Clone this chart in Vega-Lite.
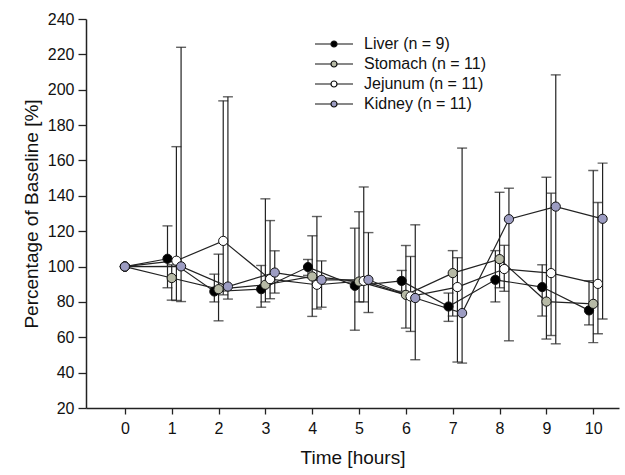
{
  "$schema": "https://vega.github.io/schema/vega-lite/v6.json",
  "width": 533,
  "height": 389,
  "autosize": {"type": "none"},
  "padding": {"left": 86, "top": 19, "right": 6, "bottom": 67},
  "background": "white",
  "config": {
    "view": {"stroke": null},
    "font": "Liberation Sans",
    "axis": {
      "domainColor": "#222",
      "domainWidth": 1.5,
      "tickColor": "#222",
      "tickWidth": 1.3,
      "labelColor": "#111",
      "titleColor": "#111",
      "labelFont": "Liberation Sans",
      "titleFont": "Liberation Sans",
      "labelFontSize": 16,
      "titleFontSize": 19,
      "titleFontWeight": "normal",
      "labelOverlap": false,
      "grid": false
    }
  },
  "data": {
    "values": [
      {"series": "Liver (n = 9)", "hour": 0, "time": 0, "v": 100},
      {"series": "Liver (n = 9)", "hour": 1, "time": 0.91, "v": 104.4, "hi": 123, "lo": 88},
      {"series": "Liver (n = 9)", "hour": 2, "time": 1.91, "v": 85.9, "hi": 95.7, "lo": 80},
      {"series": "Liver (n = 9)", "hour": 3, "time": 2.91, "v": 87.2, "hi": 100.6, "lo": 77},
      {"series": "Liver (n = 9)", "hour": 4, "time": 3.91, "v": 99.7, "hi": 104, "lo": 95},
      {"series": "Liver (n = 9)", "hour": 5, "time": 4.91, "v": 89.1, "hi": 121.7, "lo": 64},
      {"series": "Liver (n = 9)", "hour": 6, "time": 5.91, "v": 91.9, "hi": 97.8, "lo": 86},
      {"series": "Liver (n = 9)", "hour": 7, "time": 6.91, "v": 77.4, "hi": 85, "lo": 69},
      {"series": "Liver (n = 9)", "hour": 8, "time": 7.91, "v": 92.5, "hi": 109, "lo": 80},
      {"series": "Liver (n = 9)", "hour": 9, "time": 8.91, "v": 88.4, "hi": 101, "lo": 72},
      {"series": "Liver (n = 9)", "hour": 10, "time": 9.91, "v": 75.2, "hi": 92, "lo": 67},

      {"series": "Stomach (n = 11)", "hour": 0, "time": 0, "v": 100},
      {"series": "Stomach (n = 11)", "hour": 1, "time": 1, "v": 93.5, "hi": 101, "lo": 81},
      {"series": "Stomach (n = 11)", "hour": 2, "time": 2, "v": 87.2, "hi": 107, "lo": 69.3},
      {"series": "Stomach (n = 11)", "hour": 3, "time": 3, "v": 89.7, "hi": 138.3, "lo": 80},
      {"series": "Stomach (n = 11)", "hour": 4, "time": 4, "v": 94.4, "hi": 117.4, "lo": 71.8},
      {"series": "Stomach (n = 11)", "hour": 5, "time": 5, "v": 91.5, "hi": 131, "lo": 80},
      {"series": "Stomach (n = 11)", "hour": 6, "time": 6, "v": 84, "hi": 111.9, "lo": 65.2},
      {"series": "Stomach (n = 11)", "hour": 7, "time": 7, "v": 96.3, "hi": 109, "lo": 72},
      {"series": "Stomach (n = 11)", "hour": 8, "time": 8, "v": 104.2, "hi": 142, "lo": 88},
      {"series": "Stomach (n = 11)", "hour": 9, "time": 9, "v": 80.2, "hi": 150.5, "lo": 59},
      {"series": "Stomach (n = 11)", "hour": 10, "time": 10, "v": 78.9, "hi": 154.3, "lo": 57},

      {"series": "Jejunum (n = 11)", "hour": 0, "time": 0, "v": 100},
      {"series": "Jejunum (n = 11)", "hour": 1, "time": 1.1, "v": 103.3, "hi": 167.8, "lo": 80.8},
      {"series": "Jejunum (n = 11)", "hour": 2, "time": 2.1, "v": 114.5, "hi": 193.7, "lo": 84},
      {"series": "Jejunum (n = 11)", "hour": 3, "time": 3.1, "v": 92.9, "hi": 126, "lo": 81.8},
      {"series": "Jejunum (n = 11)", "hour": 4, "time": 4.1, "v": 89.7, "hi": 128.3, "lo": 76},
      {"series": "Jejunum (n = 11)", "hour": 5, "time": 5.1, "v": 91.9, "hi": 145, "lo": 80},
      {"series": "Jejunum (n = 11)", "hour": 6, "time": 6.1, "v": 83.1, "hi": 105.7, "lo": 63.3},
      {"series": "Jejunum (n = 11)", "hour": 7, "time": 7.1, "v": 88.4, "hi": 105, "lo": 46},
      {"series": "Jejunum (n = 11)", "hour": 8, "time": 8.1, "v": 98.6, "hi": 112, "lo": 86},
      {"series": "Jejunum (n = 11)", "hour": 9, "time": 9.1, "v": 96.3, "hi": 141.5, "lo": 61},
      {"series": "Jejunum (n = 11)", "hour": 10, "time": 10.1, "v": 90.2, "hi": 136.2, "lo": 62},

      {"series": "Kidney (n = 11)", "hour": 0, "time": 0, "v": 100},
      {"series": "Kidney (n = 11)", "hour": 1, "time": 1.2, "v": 100.1, "hi": 224, "lo": 80.2},
      {"series": "Kidney (n = 11)", "hour": 2, "time": 2.2, "v": 88.7, "hi": 196, "lo": 81.6},
      {"series": "Kidney (n = 11)", "hour": 3, "time": 3.2, "v": 96.6, "hi": 108.9, "lo": 85},
      {"series": "Kidney (n = 11)", "hour": 4, "time": 4.2, "v": 92.5, "hi": 103.2, "lo": 77},
      {"series": "Kidney (n = 11)", "hour": 5, "time": 5.2, "v": 92.5, "hi": 119.2, "lo": 74},
      {"series": "Kidney (n = 11)", "hour": 6, "time": 6.2, "v": 82.2, "hi": 123.6, "lo": 47.3},
      {"series": "Kidney (n = 11)", "hour": 7, "time": 7.2, "v": 73.7, "hi": 167, "lo": 45.4},
      {"series": "Kidney (n = 11)", "hour": 8, "time": 8.2, "v": 126.8, "hi": 144.3, "lo": 58},
      {"series": "Kidney (n = 11)", "hour": 9, "time": 9.2, "v": 133.9, "hi": 208.4, "lo": 56.3},
      {"series": "Kidney (n = 11)", "hour": 10, "time": 10.2, "v": 127, "hi": 158.5, "lo": 70.3}
    ]
  },
  "encoding": {
    "x": {
      "field": "time",
      "type": "quantitative",
      "scale": {"domain": [-0.83, 10.55], "nice": false, "zero": false},
      "axis": {
        "title": "Time [hours]",
        "values": [0, 1, 2, 3, 4, 5, 6, 7, 8, 9, 10],
        "tickSize": 6,
        "labelPadding": 6,
        "titlePadding": 12
      }
    },
    "y": {
      "field": "v",
      "type": "quantitative",
      "scale": {"domain": [20, 240], "nice": false, "zero": false},
      "axis": {
        "title": "Percentage of Baseline [%]",
        "values": [20, 40, 60, 80, 100, 120, 140, 160, 180, 200, 220, 240],
        "labelOverlap": false,
        "labelBound": false,
        "tickSize": 8,
        "labelPadding": 4,
        "titlePadding": 6
      }
    }
  },
  "layer": [
    {
      "mark": {"type": "rule", "color": "#222", "strokeWidth": 1.2},
      "encoding": {
        "y": {"field": "hi", "type": "quantitative"},
        "y2": {"field": "lo"}
      }
    },
    {
      "mark": {"type": "tick", "orient": "horizontal", "color": "#222", "size": 10, "thickness": 1.4},
      "encoding": {"y": {"field": "hi", "type": "quantitative"}}
    },
    {
      "mark": {"type": "tick", "orient": "horizontal", "color": "#222", "size": 10, "thickness": 1.4},
      "encoding": {"y": {"field": "lo", "type": "quantitative"}}
    },
    {
      "mark": {"type": "line", "color": "#222", "strokeWidth": 1.2},
      "encoding": {
        "detail": {"field": "series"},
        "order": {"field": "time", "type": "quantitative"}
      }
    },
    {
      "mark": {"type": "point", "shape": "circle", "filled": true, "size": 85, "stroke": "#111", "strokeWidth": 1, "opacity": 1},
      "encoding": {
        "fill": {
          "field": "series",
          "type": "nominal",
          "scale": {
            "domain": ["Liver (n = 9)", "Stomach (n = 11)", "Jejunum (n = 11)", "Kidney (n = 11)"],
            "range": ["#000000", "#b7baa6", "#ffffff", "#9c9cc2"]
          },
          "legend": {
            "title": null,
            "orient": "none",
            "legendX": 240,
            "legendY": 17,
            "padding": 0,
            "symbolType": "M-3.8,0L-0.6,0M0.6,0L3.8,0M-0.6,0A0.6,0.6 0 1,0 0.6,0A0.6,0.6 0 1,0 -0.6,0Z",
            "symbolSize": 100,
            "symbolStrokeColor": "#111",
            "symbolStrokeWidth": 1.2,
            "symbolOpacity": 1,
            "labelOffset": 22,
            "labelFontSize": 16,
            "labelColor": "#111",
            "labelFont": "Liberation Sans",
            "rowPadding": 4
          }
        }
      }
    }
  ]
}
